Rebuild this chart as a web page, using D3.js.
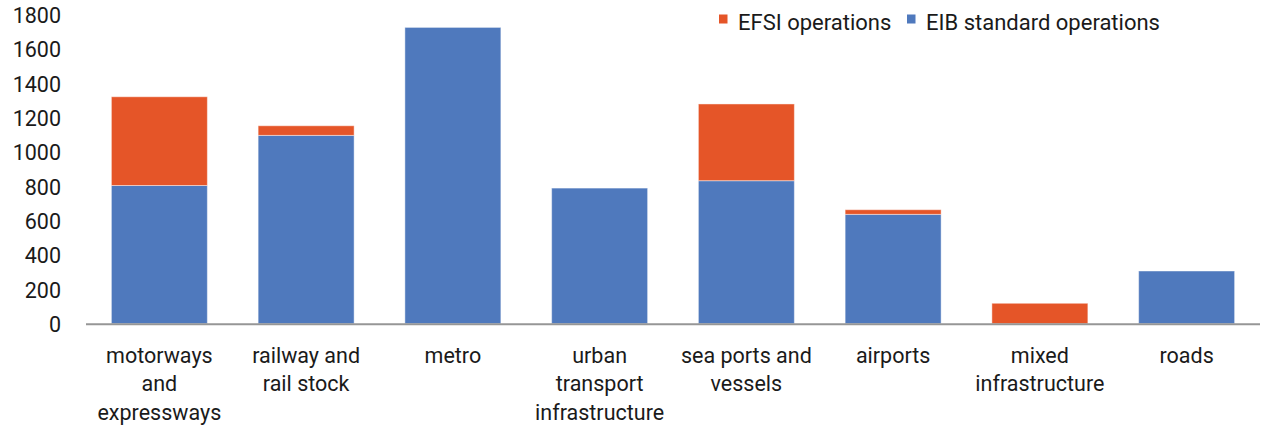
<!DOCTYPE html>
<html>
<head>
<meta charset="utf-8">
<script src="https://cdn.jsdelivr.net/npm/d3@7"></script>
<style>
  html, body { margin: 0; padding: 0; background: #fff; }
  svg { display: block; font-family: Roboto, "Liberation Sans", sans-serif; }
</style>
</head>
<body>
<svg id="chart" width="1266" height="430"></svg>
<script>
// Transport lending by sector, split by operation type
const categories = [
  ["motorways", "and", "expressways"],
  ["railway and", "rail stock"],
  ["metro"],
  ["urban", "transport", "infrastructure"],
  ["sea ports and", "vessels"],
  ["airports"],
  ["mixed", "infrastructure"],
  ["roads"]
];
const eibStandard = [805, 1097, 1726, 790, 833, 637, 0, 307];
const efsi        = [517,   56,    0,   0, 447,  27, 119,  0];
const yTicks = [0, 200, 400, 600, 800, 1000, 1200, 1400, 1600, 1800];
const seriesNames = ["EFSI operations", "EIB standard operations"];

const colors = { efsi: "#E55528", eib: "#4F79BD" };
const textColor = "#1a1a1a";
const fontSize = 21.5;

const svg = d3.select("#chart");
const x0 = 86, x1 = 1260, yBase = 323.7, yTop = 14.7;

const keys = categories.map((c, i) => i);
const x = d3.scaleBand().domain(keys).range([x0, x1]).paddingInner(0.346).paddingOuter(0.173);
const y = d3.scaleLinear().domain([0, 1800]).range([yBase, yTop]);

const rows = keys.map(i => ({ i, eib: eibStandard[i], efsi: efsi[i] }));
const stack = d3.stack().keys(["eib", "efsi"])(rows);

svg.append("g").selectAll("g").data(stack).join("g")
  .attr("fill", d => colors[d.key])
  .selectAll("rect").data(d => d.filter(p => p[1] - p[0] > 0)).join("rect")
  .attr("x", d => x(d.data.i))
  .attr("width", x.bandwidth())
  .attr("y", d => y(d[1]))
  .attr("height", d => y(d[0]) - y(d[1]))
  .attr("stroke", "rgba(255,255,255,0.45)")
  .attr("stroke-width", 1);

// y axis labels (no axis line)
const yAxis = svg.append("g").attr("transform", `translate(${x0 - 25},0)`)
  .call(d3.axisLeft(y).tickValues(yTicks).tickFormat(d3.format("d")).tickSize(0).tickPadding(0));
yAxis.select(".domain").remove();
yAxis.selectAll("text")
  .attr("font-size", fontSize).attr("font-family", "Roboto, sans-serif")
  .attr("fill", textColor).attr("dy", "0.36em");

// baseline
svg.append("line")
  .attr("x1", x0).attr("x2", x1)
  .attr("y1", y(0) + 0.5).attr("y2", y(0) + 0.5)
  .attr("stroke", "#969696").attr("stroke-width", 2);

// category labels
const xl = svg.append("g");
categories.forEach((lines, i) => {
  const t = xl.append("text")
    .attr("text-anchor", "middle")
    .attr("font-size", fontSize)
    .attr("fill", textColor);
  lines.forEach((ln, k) => {
    t.append("tspan")
      .attr("x", x(i) + x.bandwidth() / 2)
      .attr("y", 362.5 + k * 28.5)
      .text(ln);
  });
});

// legend
const legend = svg.append("g");
const legendItems = [
  { name: seriesNames[0], color: colors.efsi, x: 719 },
  { name: seriesNames[1], color: colors.eib, x: 907 }
];
legendItems.forEach(d => {
  legend.append("rect").attr("x", d.x).attr("y", 14.5).attr("width", 8.5).attr("height", 9).attr("fill", d.color);
  legend.append("text").attr("x", d.x + 19).attr("y", 22).attr("dy", "0.36em")
    .attr("font-size", fontSize + 0.5).attr("fill", textColor).text(d.name);
});
</script>
</body>
</html>
